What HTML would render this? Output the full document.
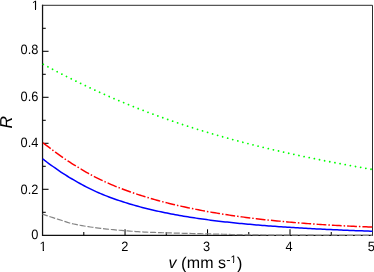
<!DOCTYPE html>
<html><head><meta charset="utf-8">
<style>
html,body{margin:0;padding:0;background:#fff;}
body{width:374px;height:272px;overflow:hidden;}
svg{display:block;}
text{font-family:"Liberation Sans",sans-serif;fill:#000;text-rendering:geometricPrecision;}
</style></head>
<body>
<svg width="374" height="272" viewBox="0 0 374 272" style="will-change:transform">
<g stroke="#000" stroke-width="1.25" fill="none">
<path d="M42.55,4.77 V235.3 H372.95" stroke="#111"/>
<path d="M41.925,5.3 H372.5 V235.925" stroke="#222" stroke-width="0.95"/>
</g>
<g stroke="#000" stroke-width="1.05" fill="none">
<line x1="42.55" y1="212.30" x2="45.75" y2="212.30"/>
<line x1="42.55" y1="189.30" x2="48.55" y2="189.30"/>
<line x1="42.55" y1="166.30" x2="45.75" y2="166.30"/>
<line x1="42.55" y1="143.30" x2="48.55" y2="143.30"/>
<line x1="42.55" y1="120.30" x2="45.75" y2="120.30"/>
<line x1="42.55" y1="97.30" x2="48.55" y2="97.30"/>
<line x1="42.55" y1="74.30" x2="45.75" y2="74.30"/>
<line x1="42.55" y1="51.30" x2="48.55" y2="51.30"/>
<line x1="42.55" y1="28.30" x2="45.75" y2="28.30"/>
<line x1="83.79" y1="235.3" x2="83.79" y2="232.10"/>
<line x1="125.04" y1="235.3" x2="125.04" y2="229.30"/>
<line x1="166.28" y1="235.3" x2="166.28" y2="232.10"/>
<line x1="207.52" y1="235.3" x2="207.52" y2="229.30"/>
<line x1="248.77" y1="235.3" x2="248.77" y2="232.10"/>
<line x1="290.01" y1="235.3" x2="290.01" y2="229.30"/>
<line x1="331.26" y1="235.3" x2="331.26" y2="232.10"/>
</g>
<g fill="none">
<path d="M42.60,214.07 L44.67,214.83 L46.75,215.57 L48.82,216.29 L50.90,217.00 L52.97,217.69 L55.05,218.36 L57.12,219.01 L59.19,219.65 L61.27,220.30 L63.34,220.98 L65.42,221.66 L67.49,222.33 L69.56,222.96 L71.64,223.52 L73.71,224.00 L75.79,224.45 L77.86,224.87 L79.94,225.27 L82.01,225.64 L84.08,226.00 L86.16,226.34 L88.23,226.66 L90.31,226.97 L92.38,227.25 L94.46,227.53 L96.53,227.79 L98.60,228.04 L100.68,228.30 L102.75,228.55 L104.83,228.80 L106.90,229.04 L108.97,229.27 L111.05,229.48 L113.12,229.69 L115.20,229.88 L117.27,230.07 L119.35,230.25 L121.42,230.42 L123.49,230.59 L125.57,230.75 L127.64,230.92 L129.72,231.08 L131.79,231.24 L133.87,231.39 L135.94,231.54 L138.01,231.68 L140.09,231.81 L142.16,231.93 L144.24,232.04 L146.31,232.13 L148.38,232.23 L150.46,232.31 L152.53,232.39 L154.61,232.47 L156.68,232.54 L158.76,232.61 L160.83,232.68 L162.90,232.74 L164.98,232.80 L167.05,232.86 L169.13,232.92 L171.20,232.97 L173.28,233.03 L175.35,233.08 L177.42,233.13 L179.50,233.18 L181.57,233.23 L183.65,233.28 L185.72,233.33 L187.79,233.38 L189.87,233.44 L191.94,233.49 L194.02,233.54 L196.09,233.60 L198.17,233.65 L200.24,233.70 L202.31,233.76 L204.39,233.81 L206.46,233.86 L208.54,233.92 L210.61,233.97 L212.69,234.02 L214.76,234.07 L216.83,234.12 L218.91,234.17 L220.98,234.22 L223.06,234.27 L225.13,234.32 L227.21,234.38 L229.28,234.43 L231.35,234.48 L233.43,234.53 L235.50,234.58 L237.58,234.63 L239.65,234.68 L241.72,234.72 L243.80,234.76 L245.87,234.79 L247.95,234.82 L250.02,234.85 L252.10,234.87 L254.17,234.90 L256.24,234.92 L258.32,234.94 L260.39,234.96 L262.47,234.98 L264.54,234.99 L266.62,235.01 L268.69,235.03 L270.76,235.04 L272.84,235.06 L274.91,235.07 L276.99,235.09 L279.06,235.10 L281.13,235.11 L283.21,235.12 L285.28,235.13 L287.36,235.14 L289.43,235.15 L291.51,235.16 L293.58,235.16 L295.65,235.17 L297.73,235.18 L299.80,235.18 L301.88,235.19 L303.95,235.20 L306.03,235.20 L308.10,235.21 L310.17,235.21 L312.25,235.22 L314.32,235.22 L316.40,235.23 L318.47,235.23 L320.54,235.23 L322.62,235.24 L324.69,235.24 L326.77,235.24 L328.84,235.25 L330.92,235.25 L332.99,235.25 L335.06,235.26 L337.14,235.26 L339.21,235.26 L341.29,235.27 L343.36,235.27 L345.44,235.27 L347.51,235.28 L349.58,235.28 L351.66,235.28 L353.73,235.28 L355.81,235.29 L357.88,235.29 L359.95,235.29 L362.03,235.29 L364.10,235.29 L366.18,235.30 L368.25,235.30 L370.33,235.30 L372.40,235.30" stroke="#858585" stroke-width="1.2" stroke-dasharray="6.100 1.774" stroke-dashoffset="0.658"/>
<path d="M42.60,158.73 L44.67,160.40 L46.75,162.00 L48.82,163.53 L50.90,165.03 L52.97,166.50 L55.05,167.98 L57.12,169.45 L59.19,170.88 L61.27,172.27 L63.34,173.64 L65.42,174.96 L67.49,176.26 L69.56,177.52 L71.64,178.75 L73.71,179.95 L75.79,181.12 L77.86,182.31 L79.94,183.49 L82.01,184.64 L84.08,185.76 L86.16,186.83 L88.23,187.88 L90.31,188.91 L92.38,189.91 L94.46,190.88 L96.53,191.82 L98.60,192.74 L100.68,193.63 L102.75,194.50 L104.83,195.33 L106.90,196.15 L108.97,196.94 L111.05,197.72 L113.12,198.47 L115.20,199.21 L117.27,199.93 L119.35,200.64 L121.42,201.33 L123.49,202.00 L125.57,202.66 L127.64,203.30 L129.72,203.93 L131.79,204.55 L133.87,205.15 L135.94,205.73 L138.01,206.31 L140.09,206.87 L142.16,207.41 L144.24,207.95 L146.31,208.47 L148.38,208.98 L150.46,209.48 L152.53,209.97 L154.61,210.45 L156.68,210.92 L158.76,211.38 L160.83,211.82 L162.90,212.26 L164.98,212.69 L167.05,213.11 L169.13,213.52 L171.20,213.92 L173.28,214.32 L175.35,214.70 L177.42,215.08 L179.50,215.44 L181.57,215.80 L183.65,216.16 L185.72,216.50 L187.79,216.84 L189.87,217.17 L191.94,217.50 L194.02,217.82 L196.09,218.13 L198.17,218.43 L200.24,218.73 L202.31,219.02 L204.39,219.31 L206.46,219.59 L208.54,219.87 L210.61,220.14 L212.69,220.40 L214.76,220.66 L216.83,220.91 L218.91,221.16 L220.98,221.41 L223.06,221.65 L225.13,221.88 L227.21,222.11 L229.28,222.34 L231.35,222.56 L233.43,222.78 L235.50,222.99 L237.58,223.20 L239.65,223.40 L241.72,223.60 L243.80,223.80 L245.87,224.00 L247.95,224.19 L250.02,224.37 L252.10,224.56 L254.17,224.74 L256.24,224.91 L258.32,225.09 L260.39,225.26 L262.47,225.42 L264.54,225.59 L266.62,225.75 L268.69,225.91 L270.76,226.06 L272.84,226.22 L274.91,226.37 L276.99,226.51 L279.06,226.66 L281.13,226.80 L283.21,226.94 L285.28,227.08 L287.36,227.21 L289.43,227.35 L291.51,227.48 L293.58,227.61 L295.65,227.73 L297.73,227.86 L299.80,227.98 L301.88,228.10 L303.95,228.22 L306.03,228.33 L308.10,228.45 L310.17,228.56 L312.25,228.67 L314.32,228.78 L316.40,228.89 L318.47,228.99 L320.54,229.10 L322.62,229.20 L324.69,229.30 L326.77,229.40 L328.84,229.50 L330.92,229.59 L332.99,229.69 L335.06,229.78 L337.14,229.87 L339.21,229.96 L341.29,230.05 L343.36,230.14 L345.44,230.22 L347.51,230.31 L349.58,230.39 L351.66,230.47 L353.73,230.55 L355.81,230.63 L357.88,230.71 L359.95,230.79 L362.03,230.87 L364.10,230.94 L366.18,231.02 L368.25,231.09 L370.33,231.16 L372.40,231.23" stroke="#0000ff" stroke-width="1.5"/>
<path d="M42.90,142.72 L44.97,144.37 L47.04,145.90 L49.12,147.43 L51.19,149.02 L53.26,150.61 L55.33,152.16 L57.41,153.69 L59.48,155.19 L61.55,156.66 L63.62,158.10 L65.70,159.50 L67.77,160.87 L69.84,162.21 L71.91,163.52 L73.98,164.80 L76.06,166.06 L78.13,167.28 L80.20,168.51 L82.27,169.77 L84.35,171.03 L86.42,172.27 L88.49,173.48 L90.56,174.63 L92.64,175.74 L94.71,176.80 L96.78,177.85 L98.85,178.87 L100.93,179.86 L103.00,180.84 L105.07,181.80 L107.14,182.74 L109.21,183.66 L111.29,184.56 L113.36,185.44 L115.43,186.30 L117.50,187.13 L119.58,187.95 L121.65,188.74 L123.72,189.52 L125.79,190.28 L127.87,191.03 L129.94,191.77 L132.01,192.49 L134.08,193.20 L136.15,193.89 L138.23,194.57 L140.30,195.24 L142.37,195.90 L144.44,196.54 L146.52,197.18 L148.59,197.80 L150.66,198.41 L152.73,199.01 L154.81,199.60 L156.88,200.18 L158.95,200.74 L161.02,201.30 L163.09,201.85 L165.17,202.39 L167.24,202.91 L169.31,203.43 L171.38,203.94 L173.46,204.44 L175.53,204.94 L177.60,205.42 L179.67,205.89 L181.75,206.36 L183.82,206.82 L185.89,207.27 L187.96,207.71 L190.04,208.15 L192.11,208.57 L194.18,208.99 L196.25,209.41 L198.32,209.81 L200.40,210.21 L202.47,210.60 L204.54,210.99 L206.61,211.37 L208.69,211.74 L210.76,212.10 L212.83,212.46 L214.90,212.81 L216.98,213.16 L219.05,213.50 L221.12,213.84 L223.19,214.17 L225.26,214.49 L227.34,214.81 L229.41,215.12 L231.48,215.42 L233.55,215.73 L235.63,216.02 L237.70,216.31 L239.77,216.60 L241.84,216.88 L243.92,217.15 L245.99,217.43 L248.06,217.69 L250.13,217.95 L252.21,218.21 L254.28,218.46 L256.35,218.71 L258.42,218.95 L260.49,219.19 L262.57,219.43 L264.64,219.66 L266.71,219.88 L268.78,220.10 L270.86,220.32 L272.93,220.54 L275.00,220.75 L277.07,220.95 L279.15,221.15 L281.22,221.35 L283.29,221.55 L285.36,221.74 L287.43,221.93 L289.51,222.11 L291.58,222.29 L293.65,222.47 L295.72,222.64 L297.80,222.81 L299.87,222.98 L301.94,223.15 L304.01,223.31 L306.09,223.46 L308.16,223.62 L310.23,223.77 L312.30,223.92 L314.37,224.06 L316.45,224.21 L318.52,224.35 L320.59,224.48 L322.66,224.62 L324.74,224.75 L326.81,224.88 L328.88,225.00 L330.95,225.13 L333.03,225.25 L335.10,225.37 L337.17,225.48 L339.24,225.59 L341.32,225.70 L343.39,225.81 L345.46,225.92 L347.53,226.02 L349.60,226.12 L351.68,226.22 L353.75,226.32 L355.82,226.41 L357.89,226.50 L359.97,226.59 L362.04,226.68 L364.11,226.76 L366.18,226.84 L368.26,226.92 L370.33,227.00 L372.40,227.08" stroke="#ff0000" stroke-width="1.45" stroke-dasharray="9.800 1.993 1.500 1.993"/>
<path d="M43.30,64.32 L45.37,65.44 L47.44,66.55 L49.51,67.65 L51.58,68.75 L53.65,69.84 L55.72,70.92 L57.79,72.00 L59.86,73.07 L61.93,74.13 L64.00,75.19 L66.07,76.24 L68.14,77.28 L70.21,78.32 L72.28,79.35 L74.35,80.37 L76.42,81.38 L78.49,82.39 L80.56,83.39 L82.63,84.39 L84.70,85.37 L86.77,86.35 L88.84,87.33 L90.91,88.29 L92.98,89.25 L95.05,90.21 L97.12,91.15 L99.18,92.09 L101.25,93.02 L103.32,93.95 L105.39,94.87 L107.46,95.78 L109.53,96.68 L111.60,97.58 L113.67,98.47 L115.74,99.36 L117.81,100.24 L119.88,101.11 L121.95,101.97 L124.02,102.83 L126.09,103.68 L128.16,104.53 L130.23,105.37 L132.30,106.20 L134.37,107.03 L136.44,107.85 L138.51,108.66 L140.58,109.47 L142.65,110.27 L144.72,111.06 L146.79,111.85 L148.86,112.63 L150.93,113.41 L153.00,114.18 L155.07,114.94 L157.14,115.70 L159.21,116.45 L161.28,117.19 L163.35,117.93 L165.42,118.67 L167.49,119.40 L169.56,120.12 L171.63,120.83 L173.70,121.54 L175.77,122.25 L177.84,122.95 L179.91,123.64 L181.98,124.33 L184.05,125.01 L186.12,125.69 L188.19,126.36 L190.26,127.03 L192.33,127.69 L194.40,128.34 L196.47,128.99 L198.54,129.64 L200.61,130.28 L202.68,130.91 L204.75,131.54 L206.82,132.16 L208.88,132.78 L210.95,133.40 L213.02,134.01 L215.09,134.61 L217.16,135.21 L219.23,135.81 L221.30,136.40 L223.37,136.98 L225.44,137.56 L227.51,138.14 L229.58,138.71 L231.65,139.28 L233.72,139.84 L235.79,140.40 L237.86,140.95 L239.93,141.50 L242.00,142.04 L244.07,142.58 L246.14,143.12 L248.21,143.65 L250.28,144.18 L252.35,144.70 L254.42,145.22 L256.49,145.74 L258.56,146.25 L260.63,146.76 L262.70,147.26 L264.77,147.76 L266.84,148.26 L268.91,148.75 L270.98,149.24 L273.05,149.73 L275.12,150.21 L277.19,150.69 L279.26,151.16 L281.33,151.63 L283.40,152.10 L285.47,152.57 L287.54,153.03 L289.61,153.48 L291.68,153.94 L293.75,154.39 L295.82,154.84 L297.89,155.28 L299.96,155.72 L302.03,156.16 L304.10,156.59 L306.17,157.03 L308.24,157.46 L310.31,157.88 L312.38,158.31 L314.45,158.73 L316.52,159.14 L318.58,159.56 L320.65,159.97 L322.72,160.38 L324.79,160.79 L326.86,161.19 L328.93,161.59 L331.00,161.99 L333.07,162.39 L335.14,162.78 L337.21,163.17 L339.28,163.56 L341.35,163.95 L343.42,164.33 L345.49,164.71 L347.56,165.09 L349.63,165.47 L351.70,165.85 L353.77,166.22 L355.84,166.59 L357.91,166.96 L359.98,167.33 L362.05,167.69 L364.12,168.05 L366.19,168.41 L368.26,168.77 L370.33,169.13 L372.40,169.49" stroke="#00ff00" stroke-width="1.8" stroke-linecap="round" stroke-dasharray="0.01 5.229"/>
</g>
<g font-size="12.8px">
<text transform="translate(38.4,239.30) scale(1,1.06)" text-anchor="end">0</text>
<text transform="translate(38.4,193.60) scale(1,1.06)" text-anchor="end">0.2</text>
<text transform="translate(38.4,147.10) scale(1,1.06)" text-anchor="end">0.4</text>
<text transform="translate(38.4,101.30) scale(1,1.06)" text-anchor="end">0.6</text>
<text transform="translate(38.4,54.20) scale(1,1.06)" text-anchor="end">0.8</text>
<text transform="translate(38.9,9.80) scale(1,1.06)" text-anchor="end">1</text>
<text transform="translate(42.95,251.3) scale(1,1.06)" text-anchor="middle">1</text>
<text transform="translate(124.74,251.3) scale(1,1.06)" text-anchor="middle">2</text>
<text transform="translate(206.47,251.3) scale(1,1.06)" text-anchor="middle">3</text>
<text transform="translate(289.11,251.3) scale(1,1.06)" text-anchor="middle">4</text>
<text transform="translate(371.40,251.3) scale(1,1.06)" text-anchor="middle">5</text>
</g>
<text x="168.5" y="268" font-size="16px"><tspan font-style="italic">v</tspan> <tspan font-size="17px" dy="1.2">(</tspan><tspan dy="-1.2" dx="0.2">mm s</tspan><tspan font-size="13px" dy="-4.5" dx="0.3">-</tspan><tspan font-size="10.8px" dy="-1.0" dx="0.0">1</tspan><tspan font-size="17px" dy="6.7" dx="0.2">)</tspan></text>
<g fill="#fff" stroke="none">
<rect x="31" y="9" width="4" height="1.2"/><rect x="36" y="9" width="3.5" height="1.2"/>
<rect x="39.5" y="250" width="3.2" height="1.2"/><rect x="44" y="250" width="2.5" height="1.2"/>
<rect x="230.5" y="262" width="2.5" height="1.2"/><rect x="234" y="262" width="2.5" height="1.2"/>

</g>
<text transform="translate(12.2,128.5) rotate(-90)" font-size="17.3px" font-style="italic">R</text>
</svg>
</body></html>
